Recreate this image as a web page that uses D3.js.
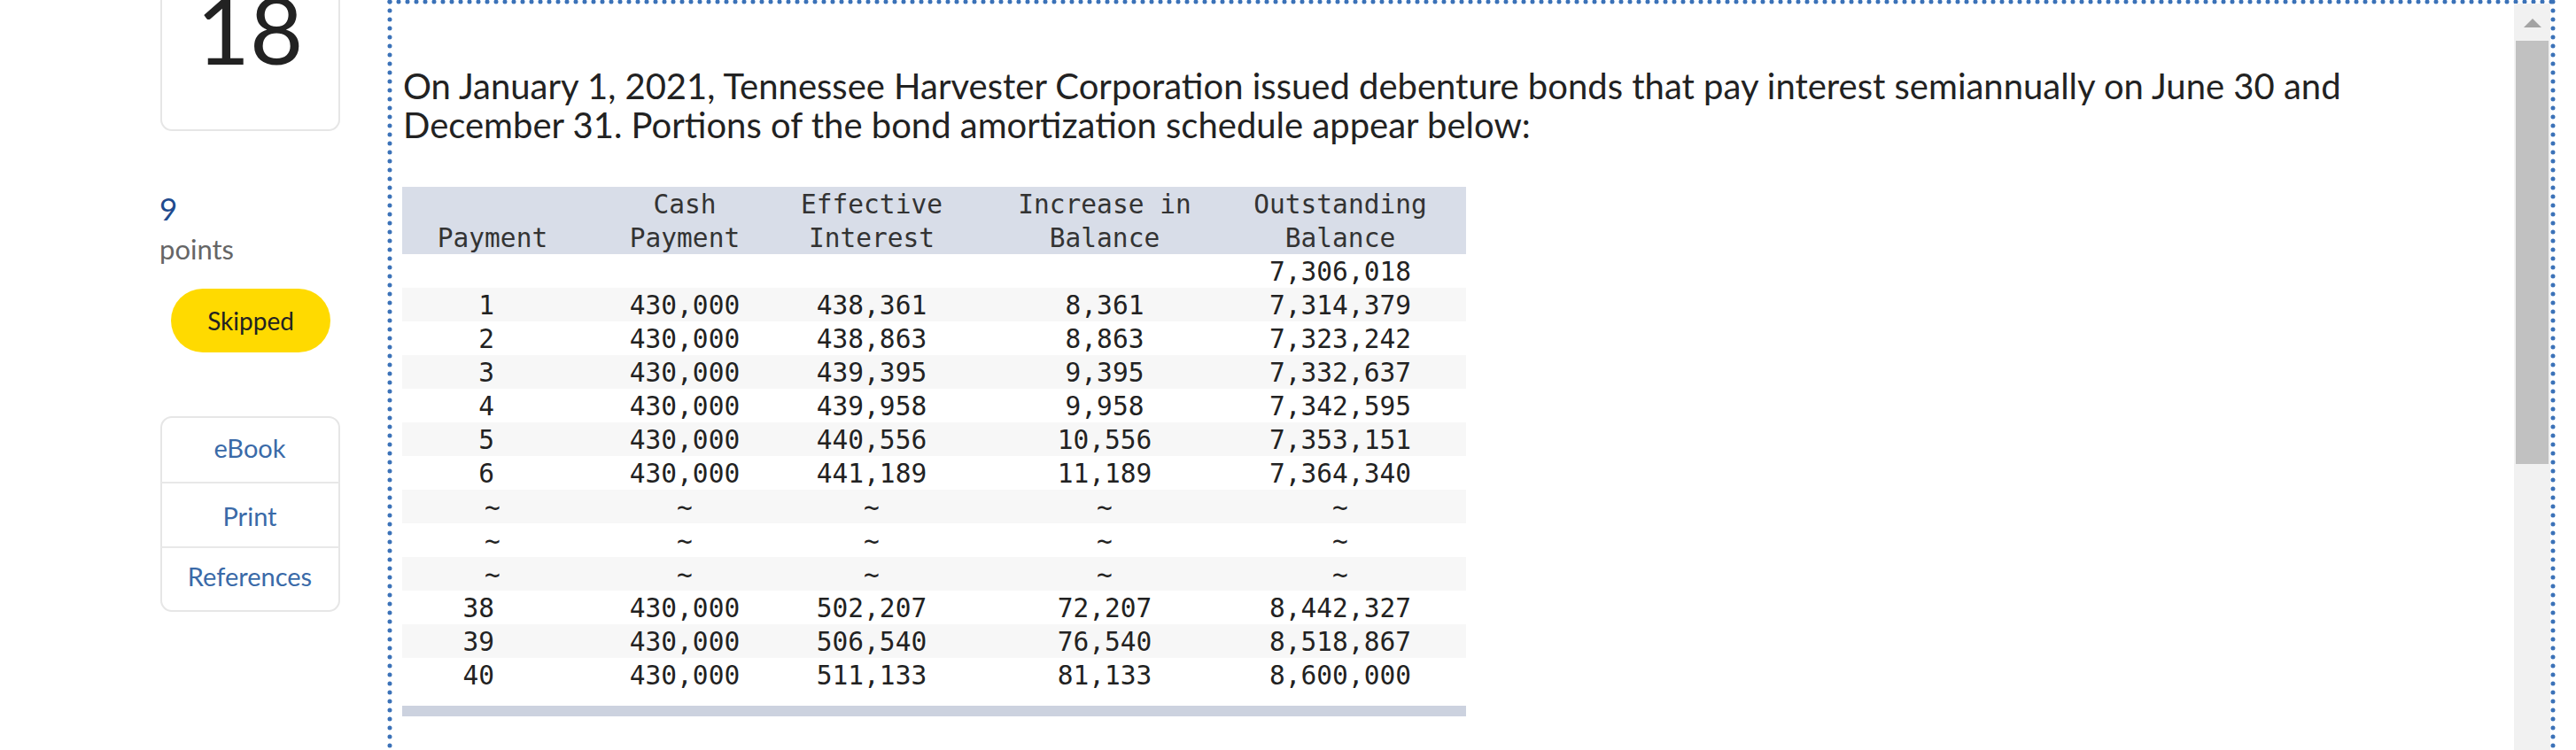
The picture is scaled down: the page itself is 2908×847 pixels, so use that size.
<!DOCTYPE html>
<html><head><meta charset="utf-8">
<script src="https://cdn.jsdelivr.net/npm/d3@7"></script>
<style>html,body{margin:0;padding:0;background:#fff;overflow:hidden}</style>
</head><body>
<svg id="c" width="2908" height="847"></svg>
<script>
// ---------- data ----------
const questionNumber = "18";
const pointsValue = "9";
const pointsLabel = "points";
const statusLabel = "Skipped";
const resourceLinks = ["eBook", "Print", "References"];
const questionLines = [
  "On January 1, 2021, Tennessee Harvester Corporation issued debenture bonds that pay interest semiannually on June 30 and",
  "December 31. Portions of the bond amortization schedule appear below:"
];
const headerLine1 = ["", "Cash", "Effective", "Increase in", "Outstanding"];
const headerLine2 = ["Payment", "Payment", "Interest", "Balance", "Balance"];
const paymentNo = [null, 1, 2, 3, 4, 5, 6, "~", "~", "~", 38, 39, 40];
const cashPayment = [null, 430000, 430000, 430000, 430000, 430000, 430000, "~", "~", "~", 430000, 430000, 430000];
const effectiveInterest = [null, 438361, 438863, 439395, 439958, 440556, 441189, "~", "~", "~", 502207, 506540, 511133];
const increaseInBalance = [null, 8361, 8863, 9395, 9958, 10556, 11189, "~", "~", "~", 72207, 76540, 81133];
const outstandingBalance = [7306018, 7314379, 7323242, 7332637, 7342595, 7353151, 7364340, "~", "~", "~", 8442327, 8518867, 8600000];

// ---------- render ----------
const svg = d3.select("#c");
const UI = "Lato, 'Open Sans', sans-serif";
const MONO = "'DejaVu Sans Mono', 'Liberation Mono', monospace";
const fmt = d3.format(",");

// left sidebar
svg.append("rect").attr("x", 182).attr("y", -30).attr("width", 201).attr("height", 177)
  .attr("rx", 12).attr("fill", "#fff").attr("stroke", "#e6e6e6").attr("stroke-width", 2);
svg.append("text").attr("x", 282).attr("y", 73).attr("text-anchor", "middle")
  .attr("font-family", UI).attr("font-size", 104).attr("fill", "#222").text(questionNumber);
svg.append("text").attr("x", 180).attr("y", 249).attr("font-family", UI).attr("font-size", 35)
  .attr("fill", "#1f4b8e").text(pointsValue);
svg.append("text").attr("x", 180).attr("y", 293).attr("font-family", UI).attr("font-size", 31)
  .attr("fill", "#666").text(pointsLabel);
svg.append("rect").attr("x", 193).attr("y", 326).attr("width", 180).attr("height", 72)
  .attr("rx", 36).attr("fill", "#ffda00");
svg.append("text").attr("x", 283).attr("y", 373).attr("text-anchor", "middle")
  .attr("font-family", UI).attr("font-size", 28).attr("fill", "#222").text(statusLabel);

svg.append("rect").attr("x", 182).attr("y", 471).attr("width", 201).attr("height", 219)
  .attr("rx", 12).attr("fill", "#fff").attr("stroke", "#e6e6e6").attr("stroke-width", 2);
svg.selectAll("line.div").data(resourceLinks.slice(1)).join("line").attr("class", "div")
  .attr("x1", 182).attr("x2", 383)
  .attr("y1", (d, i) => [545, 618][i]).attr("y2", (d, i) => [545, 618][i])
  .attr("stroke", "#e8e8e8").attr("stroke-width", 2);
svg.selectAll("text.link").data(resourceLinks).join("text").attr("class", "link")
  .attr("x", 282).attr("y", (d, i) => [517, 594, 662][i]).attr("text-anchor", "middle")
  .attr("font-family", UI).attr("font-size", 29).attr("fill", "#3a6aa8").text(d => d);

// dotted border
[[440, 2, 440, 847], [440, 2, 2882, 2], [2882, 2, 2882, 847]].forEach(([x1, y1, x2, y2]) => {
  svg.append("line").attr("x1", x1).attr("y1", y1).attr("x2", x2).attr("y2", y2)
    .attr("stroke", "#3b72b8").attr("stroke-width", 5).attr("stroke-linecap", "round")
    .attr("stroke-dasharray", "0,10");
});

// scrollbar
svg.append("rect").attr("x", 2838).attr("y", 4).attr("width", 41).attr("height", 843).attr("fill", "#f1f1f1");
svg.append("rect").attr("x", 2840).attr("y", 46).attr("width", 37).attr("height", 478).attr("fill", "#c1c1c1");
svg.append("path").attr("d", "M2849,31 L2869,31 L2859,21 Z").attr("fill", "#a3a3a3");

// question text
const qText = svg.selectAll("text.q").data(questionLines).join("text").attr("class", "q")
  .attr("x", 455).attr("y", (d, i) => 112 + i * 44)
  .attr("font-family", UI).attr("font-size", 36).attr("fill", "#222").text(d => d);
const w1 = qText.nodes()[0].getComputedTextLength();
qText.attr("font-size", 36 * 2188 / w1);

// table
const tableX0 = 454, tableX1 = 1655;
const rowY = d3.scaleBand().domain(d3.range(15)).range([211, 781]);
const colX = d3.scaleOrdinal().domain(d3.range(5)).range([556, 773, 984, 1247, 1513]);
const columns = [paymentNo, cashPayment, effectiveInterest, increaseInBalance, outstandingBalance];

svg.append("rect").attr("x", tableX0).attr("y", rowY(0)).attr("width", tableX1 - tableX0)
  .attr("height", rowY.bandwidth() * 2).attr("fill", "#d8dde8");
const dataRows = d3.range(paymentNo.length);
svg.selectAll("rect.stripe").data(dataRows.filter(i => i % 2 === 1)).join("rect").attr("class", "stripe")
  .attr("x", tableX0).attr("width", tableX1 - tableX0)
  .attr("y", i => rowY(i + 2)).attr("height", rowY.bandwidth()).attr("fill", "#f7f7f7");
svg.append("rect").attr("x", tableX0).attr("y", 797).attr("width", tableX1 - tableX0)
  .attr("height", 12).attr("fill", "#ccd2df");

const base = 30;
const MFS = 29.5;
[headerLine1, headerLine2].forEach((line, r) => {
  svg.selectAll("text.h" + r).data(line).join("text").attr("class", "h" + r)
    .attr("x", (d, i) => colX(i)).attr("y", rowY(r) + base).attr("text-anchor", "middle")
    .attr("font-family", MONO).attr("font-size", MFS).attr("fill", "#333")
    .text(d => d);
});

columns.forEach((col, c) => {
  svg.selectAll("text.c" + c).data(col.map((v, i) => ({ v, i })).filter(d => d.v !== null))
    .join("text").attr("class", "c" + c)
    .attr("x", d => (c === 0 && d.v !== "~") ? colX(0) + 2 : colX(c))
    .attr("y", d => rowY(d.i + 2) + base)
    .attr("text-anchor", d => (c === 0 && d.v !== "~") ? "end" : "middle")
    .attr("font-family", MONO).attr("font-size", MFS).attr("fill", "#222")
    .text(d => d.v === "~" ? "~" : (c === 0 ? String(d.v) : fmt(d.v)));
});
</script>
</body></html>
